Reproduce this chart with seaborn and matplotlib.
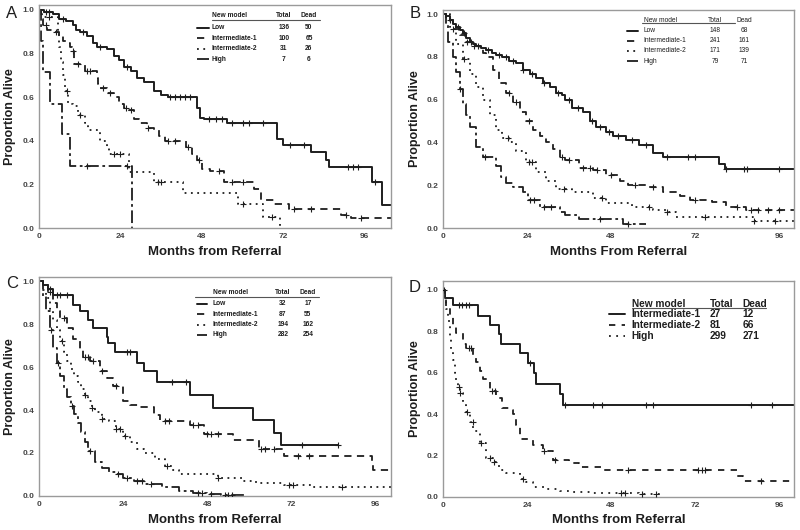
import numpy as np
import pandas as pd
import matplotlib
matplotlib.use("Agg")
import matplotlib.pyplot as plt
from matplotlib.lines import Line2D
import seaborn as sns

# ---------------- data (months, proportion alive) ----------------
# Panel A
a_low_t = [0, 1.5, 4, 6, 8, 10, 11, 12, 14, 16, 17, 20, 22, 23.5, 25, 27, 29, 31, 34, 36, 38,
           46.5, 47.5, 48.5, 55.5, 70, 72, 80, 84.5, 85.5, 98, 101, 103.7]
a_low_s = [1.0, 0.99, 0.98, 0.96, 0.95, 0.93, 0.91, 0.90, 0.88, 0.85, 0.83, 0.82, 0.79, 0.77, 0.74,
           0.72, 0.69, 0.67, 0.63, 0.61, 0.60, 0.55, 0.505, 0.50, 0.48, 0.41, 0.38, 0.35, 0.31, 0.28,
           0.21, 0.105, 0.105]
a_low_c = [2, 3, 7, 13, 18, 26, 38.5, 40, 41.5, 43, 44.5, 50, 52, 54, 57, 60, 62, 66, 74, 78,
           91, 92.5, 94, 99]
a_int1_t = [0, 0.5, 1.3, 2.5, 4.5, 6, 7, 8, 9, 9.7, 10.3, 13.6, 17, 17.5, 18, 20, 22, 23.5, 25, 26.4,
            28, 29.4, 31.8, 33.8, 35.3, 37.2, 43.2, 45, 46.6, 48, 50.5, 54.5, 63.3, 65.3, 69.3, 73.7,
            89, 92, 103.7]
a_int1_s = [1.0, 0.96, 0.93, 0.91, 0.90, 0.88, 0.86, 0.85, 0.83, 0.81, 0.75, 0.72, 0.69, 0.66, 0.64,
            0.62, 0.60, 0.57, 0.55, 0.54, 0.50, 0.48, 0.46, 0.45, 0.42, 0.40, 0.37, 0.34, 0.31, 0.27,
            0.26, 0.21, 0.18, 0.13, 0.11, 0.085, 0.06, 0.045, 0.045]
a_int1_c = [2, 5, 10, 11.5, 14, 15, 19, 21, 25.5, 27, 32, 38, 40, 44, 47, 53, 57, 60, 75, 80, 90.5, 95]
a_int2_t = [0, 1, 5.5, 6, 6.5, 7, 7.8, 8.5, 10, 11.6, 13.6, 14.5, 18, 20, 20.5, 26.5, 34, 42.5,
            58.5, 66, 71]
a_int2_s = [1.0, 0.97, 0.90, 0.83, 0.76, 0.70, 0.63, 0.57, 0.56, 0.52, 0.48, 0.45, 0.40, 0.37, 0.34,
            0.255, 0.21, 0.16, 0.11, 0.05, 0.0]
a_int2_c = [3, 8.2, 12, 22, 24, 35, 36, 60, 68.5]
a_high_t = [0, 0.5, 1.3, 3.3, 6.7, 9.2, 27.4]
a_high_s = [1.0, 0.857, 0.714, 0.571, 0.429, 0.286, 0.0]
a_high_c = [14, 26]

# Panel B
b_low_t = [0, 1, 1.9, 2.9, 3.8, 4.8, 5.7, 6.7, 7.6, 8.6, 9.5, 11, 12.4, 14, 15.2, 17, 19, 21, 22.9,
           24.8, 26.7, 28.6, 30.5, 32.4, 34, 35, 37, 40, 41.9, 43.8, 46.7, 48.6, 52.4, 56, 60, 62.9,
           79, 80.5, 100.3]
b_low_s = [1.0, 0.99, 0.97, 0.955, 0.94, 0.925, 0.91, 0.89, 0.87, 0.86, 0.85, 0.84, 0.83, 0.82, 0.81,
           0.80, 0.78, 0.77, 0.74, 0.72, 0.70, 0.68, 0.66, 0.63, 0.62, 0.60, 0.56, 0.54, 0.50, 0.47,
           0.45, 0.43, 0.41, 0.39, 0.35, 0.33, 0.30, 0.275, 0.275]
b_low_c = [2, 4.3, 6, 8, 10, 13, 16, 18, 20, 23, 25.5, 29, 33, 36, 38.5, 42.5, 45, 47.5, 50, 54,
           58, 64, 70, 72, 81, 86, 87, 96]
b_int1_t = [0, 1, 2.9, 4.8, 6.7, 8.6, 10.5, 11.5, 12.4, 14.3, 16, 18, 20, 22, 23.8, 25.7, 27.6, 29.5,
            31.4, 33.3, 35, 39, 42.9, 46.7, 50.5, 53, 58, 63, 67.6, 70.5, 77, 81, 86.7, 100.3]
b_int1_s = [1.0, 0.97, 0.93, 0.90, 0.87, 0.85, 0.84, 0.82, 0.80, 0.74, 0.68, 0.63, 0.59, 0.54, 0.50,
            0.46, 0.43, 0.40, 0.37, 0.33, 0.32, 0.28, 0.27, 0.25, 0.22, 0.20, 0.19, 0.17, 0.15, 0.13,
            0.12, 0.10, 0.085, 0.085]
b_int1_c = [3, 7, 9, 19, 21, 24.5, 34, 36, 40, 42, 44, 48, 55, 60, 72, 84, 88, 90, 93, 96]
b_int2_t = [0, 1.9, 3.8, 5.7, 7.6, 9.5, 11.4, 13.3, 15.2, 17, 19, 21, 23.8, 26.7, 29.5, 32.4, 37,
            42.9, 46.7, 54, 60, 63.8, 66.7, 88.6, 100.3]
b_int2_s = [1.0, 0.94, 0.86, 0.79, 0.72, 0.66, 0.60, 0.53, 0.46, 0.42, 0.40, 0.36, 0.31, 0.26, 0.22,
            0.18, 0.17, 0.14, 0.115, 0.10, 0.085, 0.075, 0.05, 0.035, 0.035]
b_int2_c = [6, 18.5, 24.5, 25.5, 34.5, 45.5, 59, 64, 75, 89, 95]
b_high_t = [0, 1, 1.4, 2.9, 3.8, 4.8, 5.7, 6.7, 7.6, 9.5, 11.4, 15.2, 16.7, 18, 20, 22.9, 24.3, 27.6,
            33.3, 35, 39, 51.4, 58]
b_high_s = [1.0, 0.95, 0.87, 0.80, 0.73, 0.65, 0.58, 0.53, 0.47, 0.38, 0.33, 0.29, 0.24, 0.21, 0.19,
            0.17, 0.13, 0.10, 0.075, 0.06, 0.04, 0.02, 0.02]
b_high_c = [5, 12, 25, 26, 29, 31, 45, 53]

# Panel C
c_low_t = [0, 1.2, 2.5, 4, 9.8, 11.7, 14, 15.5, 19.3, 19.8, 21.7, 27.9, 30, 33.6, 43, 49.8, 61, 67,
           69, 85.5]
c_low_s = [1.0, 0.98, 0.965, 0.935, 0.89, 0.86, 0.82, 0.78, 0.74, 0.71, 0.67, 0.62, 0.58, 0.53,
           0.47, 0.41, 0.355, 0.295, 0.235, 0.235]
c_low_c = [3, 5, 6, 8, 25, 26, 38, 42, 75, 85.5]
c_int1_t = [0, 1.2, 2.7, 4, 5, 6, 8, 9.8, 11.7, 12.7, 14.6, 17.4, 19.3, 21.2, 24, 26, 28.9, 32.7,
            34.6, 43, 47, 55.5, 62.7, 70, 95, 95.5, 100.5]
c_int1_s = [1.0, 0.98, 0.95, 0.90, 0.86, 0.83, 0.78, 0.73, 0.68, 0.645, 0.63, 0.58, 0.55, 0.51,
            0.44, 0.425, 0.415, 0.375, 0.35, 0.33, 0.29, 0.26, 0.22, 0.185, 0.15, 0.12, 0.12]
c_int1_c = [3, 7, 13, 14, 15.5, 18, 22, 36, 37, 44, 45.5, 48, 49, 51, 63.5, 64.5, 67, 74, 77]
c_int2_t = [0, 1, 2, 3, 4, 5, 6, 7, 8, 9, 10, 11, 12, 13, 14, 15, 16, 18, 20, 22, 24, 26, 28, 30,
            33, 36, 38, 40, 51, 58, 62, 70, 78, 100.5]
c_int2_s = [1.0, 0.96, 0.92, 0.87, 0.82, 0.77, 0.72, 0.67, 0.63, 0.59, 0.56, 0.53, 0.50, 0.47, 0.44,
            0.41, 0.39, 0.36, 0.35, 0.31, 0.28, 0.25, 0.22, 0.20, 0.17, 0.14, 0.12, 0.10, 0.085,
            0.07, 0.06, 0.05, 0.04, 0.04]
c_int2_c = [6.5, 13, 15, 18, 22, 23, 24.5, 36.5, 51, 71.5, 72.5, 86.5]
c_high_t = [0, 1, 2, 3, 4, 5, 6, 7, 8, 9, 10, 11, 12, 13, 14, 16, 18, 20, 22, 24, 27, 30, 35, 40,
            44, 48, 52, 59]
c_high_s = [1.0, 0.93, 0.86, 0.77, 0.69, 0.62, 0.56, 0.50, 0.46, 0.42, 0.38, 0.34, 0.30, 0.25, 0.21,
            0.16, 0.13, 0.11, 0.10, 0.085, 0.07, 0.055, 0.04, 0.025, 0.015, 0.01, 0.005, 0.005]
c_high_c = [3.5, 5.5, 9.5, 14.5, 22.5, 25, 28, 29.5, 32, 45.5, 46.5, 49, 53, 54, 55]

# Panel D
d_int1_t = [0, 0.5, 2.9, 10, 13.3, 16, 16.7, 22, 24.3, 26, 26.7, 33.3, 34.3, 100.3]
d_int1_s = [1.0, 0.963, 0.925, 0.875, 0.83, 0.785, 0.74, 0.695, 0.645, 0.60, 0.545, 0.495, 0.445,
            0.445]
d_int1_c = [0.3, 4.5, 5.5, 6.5, 7.5, 25, 35, 43, 45.5, 58, 60, 88, 94]
d_int2_t = [0, 0.5, 1, 1.9, 2.9, 3.8, 5.7, 6.7, 8.5, 9.5, 10.5, 11.4, 13.3, 15.2, 17, 19, 20, 21,
            22, 25.7, 28.6, 31.4, 36, 39, 45.7, 84, 85.7, 100.3]
d_int2_s = [1.0, 0.96, 0.92, 0.87, 0.83, 0.79, 0.74, 0.72, 0.68, 0.65, 0.61, 0.57, 0.51, 0.48, 0.43,
            0.42, 0.40, 0.35, 0.28, 0.25, 0.22, 0.18, 0.165, 0.145, 0.13, 0.10, 0.075, 0.075]
d_int2_c = [7.5, 8, 14, 15, 29, 32, 53, 73, 74, 75, 91]
d_high_t = [0, 0.5, 1, 1.5, 1.9, 2.4, 2.9, 3.4, 3.8, 4.3, 4.8, 5.7, 6.7, 7.6, 8.6, 10.5, 12.4, 14.3,
            16, 18, 22, 23.8, 25.7, 29.5, 33.3, 37, 42.9, 56, 62.9]
d_high_s = [1.0, 0.96, 0.91, 0.85, 0.77, 0.71, 0.66, 0.60, 0.56, 0.53, 0.50, 0.45, 0.41, 0.36, 0.32,
            0.26, 0.19, 0.17, 0.13, 0.115, 0.085, 0.07, 0.05, 0.04, 0.03, 0.025, 0.02, 0.012, 0.012]
d_high_c = [4.5, 5, 7, 8.5, 11, 13.5, 14.5, 23, 51, 52, 57, 61]

# legend tables
names4 = ["Low", "Intermediate-1", "Intermediate-2", "High"]
names3 = ["Intermediate-1", "Intermediate-2", "High"]
a_total, a_dead = [136, 100, 31, 7], [50, 65, 26, 6]
b_total, b_dead = [148, 241, 171, 79], [68, 161, 139, 71]
c_total, c_dead = [32, 87, 194, 282], [17, 55, 162, 254]
d_total, d_dead = [27, 81, 299], [12, 66, 271]

x_ticks = [0, 24, 48, 72, 96]
y_ticks = [0.0, 0.2, 0.4, 0.6, 0.8, 1.0]

# ---------------- styling ----------------
sns.set_theme(style="white")
plt.rcParams["font.family"] = ["Liberation Sans", "DejaVu Sans"]

INK = "#1e1e1e"
SOLID = dict(ls="-", lw=1.4)
DASH = dict(ls=(0, (4, 3)), lw=1.3)
DOT = dict(ls=(0, (1, 2.5)), lw=1.3)
DASHDOT = dict(ls=(0, (7, 2, 1.5, 2)), lw=1.3)


def km_at(t, s, at):
    idx = np.searchsorted(np.asarray(t), np.asarray(at), side="right") - 1
    return np.asarray(s)[idx]


def draw_curve(ax, t, s, cens, st):
    df = pd.DataFrame({"month": t, "surv": s})
    sns.lineplot(data=df, x="month", y="surv", ax=ax, estimator=None, sort=False,
                 drawstyle="steps-post", color=INK, linewidth=st["lw"], linestyle=st["ls"])
    cdf = pd.DataFrame({"month": cens, "surv": km_at(t, s, cens)})
    sns.scatterplot(data=cdf, x="month", y="surv", ax=ax, marker="+", s=16,
                    color=INK, linewidth=0.8, zorder=3)


def draw_table(ax, names, totals, deads, styles, lay):
    kw = dict(transform=ax.transAxes, fontsize=lay["fs"], fontweight=lay["fw"],
              color=INK, va="center")
    ax.text(lay["xn"], lay["yh"], "New model", ha="left", **kw)
    ax.text(lay["xt"], lay["yh"], "Total", ha=lay["ha"], **kw)
    ax.text(lay["xd"], lay["yh"], "Dead", ha=lay["ha"], **kw)
    ax.add_line(Line2D(lay["ul"], [lay["yu"], lay["yu"]], transform=ax.transAxes,
                       color="#555555", lw=0.8))
    for i in range(len(names)):
        y = lay["y0"] - i * lay["dy"]
        st = styles[i]
        ax.add_line(Line2D(lay["xl"], [y, y], transform=ax.transAxes, color=INK,
                           lw=st["lw"], ls=st["ls"]))
        ax.text(lay["xn"], y, names[i], ha="left", **kw)
        ax.text(lay["xt"], y, str(totals[i]), ha=lay["ha"], **kw)
        ax.text(lay["xd"], y, str(deads[i]), ha=lay["ha"], **kw)


def style_axes(ax, xmax, ytop, xlabel, xl_y, yl_x):
    ax.set_xlim(0, xmax)
    ax.set_ylim(0, ytop)
    ax.set_xticks(x_ticks)
    ax.set_yticks(y_ticks)
    ax.set_yticklabels([f"{v:.1f}" for v in y_ticks])
    ax.tick_params(length=1.5, width=0.6, color="#777777", labelsize=6, labelcolor="#444444", pad=2)
    for lab in ax.get_xticklabels() + ax.get_yticklabels():
        lab.set_fontweight("bold")
    for sp in ax.spines.values():
        sp.set_color("#9a9a9a")
        sp.set_linewidth(1.0)
    ax.set_xlabel(xlabel, fontsize=9.5, fontweight="bold", color=INK, va="center")
    ax.set_ylabel("Proportion Alive", fontsize=9, fontweight="bold", color=INK, va="center")
    ax.xaxis.set_label_coords(0.5, xl_y)
    ax.yaxis.set_label_coords(yl_x, 0.5)


fig = plt.figure(figsize=(8, 5.3), dpi=100)
fig.patch.set_facecolor("white")

axA = fig.add_axes([0.04875, 0.5698, 0.44, 0.4208])
axB = fig.add_axes([0.55375, 0.5698, 0.43875, 0.4113])
axC = fig.add_axes([0.04875, 0.0642, 0.44, 0.4132])
axD = fig.add_axes([0.55375, 0.0623, 0.43875, 0.4075])

four = [SOLID, DASH, DOT, DASHDOT]
three = [SOLID, dict(ls=(0, (3.5, 3.5)), lw=1.3), dict(ls=(0, (1, 3)), lw=1.3)]

for t, s, c, st in zip([a_low_t, a_int1_t, a_int2_t, a_high_t], [a_low_s, a_int1_s, a_int2_s, a_high_s],
                       [a_low_c, a_int1_c, a_int2_c, a_high_c], four):
    draw_curve(axA, t, s, c, st)
for t, s, c, st in zip([b_low_t, b_int1_t, b_int2_t, b_high_t], [b_low_s, b_int1_s, b_int2_s, b_high_s],
                       [b_low_c, b_int1_c, b_int2_c, b_high_c], four):
    draw_curve(axB, t, s, c, st)
for t, s, c, st in zip([c_low_t, c_int1_t, c_int2_t, c_high_t], [c_low_s, c_int1_s, c_int2_s, c_high_s],
                       [c_low_c, c_int1_c, c_int2_c, c_high_c], four):
    draw_curve(axC, t, s, c, st)
for t, s, c, st in zip([d_int1_t, d_int2_t, d_high_t], [d_int1_s, d_int2_s, d_high_s],
                       [d_int1_c, d_int2_c, d_high_c], three):
    draw_curve(axD, t, s, c, st)

style_axes(axA, 103.7, 1.023, "Months from Referral", -0.108, -0.082)
style_axes(axB, 100.3, 1.019, "Months From Referral", -0.11, -0.08)
style_axes(axC, 100.5, 1.019, "Months from Referral", -0.11, -0.082)
style_axes(axD, 100.3, 1.043, "Months from Referral", -0.106, -0.08)

draw_table(axA, names4, a_total, a_dead, four,
           dict(fs=4.8, fw="bold", ha="center", xn=0.491, xt=0.696, xd=0.767, yh=0.951,
                yu=0.933, ul=[0.491, 0.798], xl=[0.449, 0.483], y0=0.897, dy=0.047))
draw_table(axB, names4, b_total, b_dead, four,
           dict(fs=4.8, fw="normal", ha="center", xn=0.572, xt=0.775, xd=0.858, yh=0.954,
                yu=0.94, ul=[0.567, 0.832], xl=[0.524, 0.556], y0=0.904, dy=0.046))
draw_table(axC, names4, c_total, c_dead, four,
           dict(fs=4.8, fw="bold", ha="center", xn=0.494, xt=0.693, xd=0.764, yh=0.927,
                yu=0.909, ul=[0.443, 0.795], xl=[0.449, 0.477], y0=0.877, dy=0.047))
draw_table(axD, names3, d_total, d_dead, three,
           dict(fs=7.3, fw="bold", ha="left", xn=0.538, xt=0.76, xd=0.853, yh=0.894,
                yu=0.875, ul=[0.538, 0.920], xl=[0.473, 0.519], y0=0.847, dy=0.051))

for letter, px, py in [("A", 12, 13), ("B", 415, 13), ("C", 12, 284), ("D", 415, 287)]:
    fig.text(px / 800, 1 - py / 530, letter, fontsize=12, ha="center", va="center", color=INK)

fig.savefig("out.png", dpi=100, facecolor="white")
